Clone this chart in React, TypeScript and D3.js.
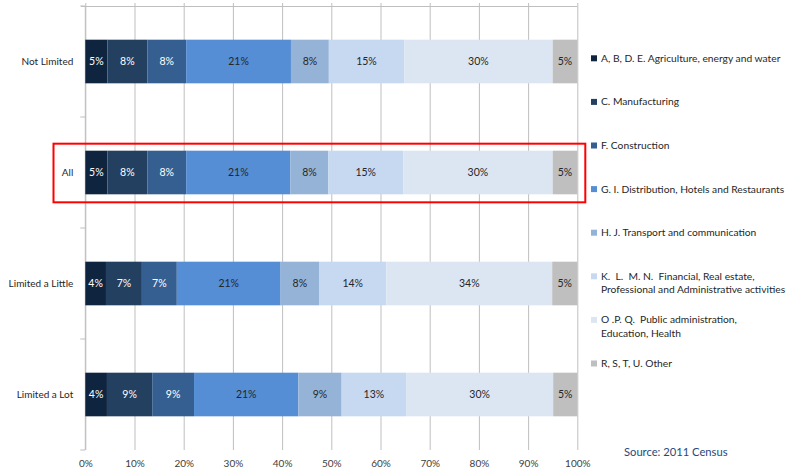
import { useEffect, useRef } from 'react';
import * as d3 from 'd3';

// rows of the chart (share of employment, %)
const categories = ['Not Limited', 'All', 'Limited a Little', 'Limited a Lot'];
const notLimited = [4.5, 8.1, 7.9, 21.3, 7.7, 15.3, 30.2, 5.0];
const allPeople = [4.5, 8.1, 7.9, 21.2, 7.7, 15.2, 30.4, 5.0];
const limitedLittle = [4.2, 7.3, 7.1, 21.1, 7.8, 13.7, 33.7, 5.1];
const limitedLot = [4.4, 9.2, 8.5, 21.2, 8.8, 13.1, 29.9, 4.9];

const seriesNames = [
  ['A, B, D. E. Agriculture, energy and water'],
  ['C. Manufacturing'],
  ['F. Construction'],
  ['G. I. Distribution, Hotels and Restaurants'],
  ['H. J. Transport and communication'],
  ['K.  L.  M. N.  Financial, Real estate,', 'Professional and Administrative activities'],
  ['O .P. Q.  Public administration,', 'Education, Health'],
  ['R, S, T, U. Other'],
];

const colors = ['#0F243E', '#244061', '#365F91', '#558ED5', '#95B3D7', '#C6D9F1', '#DCE6F2', '#BFBFBF'];
const xTicks = [0, 10, 20, 30, 40, 50, 60, 70, 80, 90, 100];

const FONT = 'Lato, "Open Sans", sans-serif';

export default function App() {
  const svgRef = useRef<SVGSVGElement>(null);

  useEffect(() => {
    if (!svgRef.current) return;
    const svg = d3.select(svgRef.current);
    svg.selectAll('*').remove();

    const rows = [notLimited, allPeople, limitedLittle, limitedLot];
    const table = categories.map((c, i) => {
      const o: any = { category: c };
      rows[i].forEach((v, j) => (o['s' + j] = v));
      return o;
    });
    const keys = seriesNames.map((_, j) => 's' + j);
    const stacked = d3.stack().keys(keys)(table);

    const x = d3.scaleLinear().domain([0, 100]).range([85.3, 577.3]);
    const y = d3.scaleBand().domain(categories).range([6, 450]).paddingInner(0.607).paddingOuter(0.3035);

    // top border
    svg.append('line')
      .attr('x1', 81).attr('x2', x(100)).attr('y1', 6.5).attr('y2', 6.5)
      .attr('stroke', '#bfbfbf').attr('stroke-width', 1);

    // gridlines + x labels
    const xAxis = svg.append('g')
      .attr('transform', 'translate(0,450)')
      .call(d3.axisBottom(x).tickValues(xTicks).tickSize(-444).tickPadding(10).tickFormat((d) => `${d}%`));
    xAxis.select('.domain').remove();
    xAxis.selectAll('line').attr('stroke', '#bfbfbf').attr('y1', 0).attr('y2', -447);
    xAxis.selectAll('text')
      .attr('fill', '#404040').attr('font-family', FONT).attr('font-size', 10);

    // category axis
    const yAxis = svg.append('g')
      .attr('transform', `translate(${x(0)},0)`);
    yAxis.append('line')
      .attr('x1', 0).attr('x2', 0).attr('y1', 6).attr('y2', 450)
      .attr('stroke', '#bfbfbf');
    const bounds = [6, ...categories.map((c) => (y(c) as number) + y.step() / 2 + y.bandwidth() / 2)];
    yAxis.selectAll('line.tick')
      .data(bounds)
      .enter()
      .append('line')
      .attr('class', 'tick')
      .attr('x1', -5).attr('x2', 0)
      .attr('y1', (d) => d).attr('y2', (d) => d)
      .attr('stroke', '#bfbfbf');
    yAxis.selectAll('text')
      .data(categories)
      .enter()
      .append('text')
      .attr('x', -12)
      .attr('y', (d) => (y(d) as number) + y.bandwidth() / 2)
      .attr('dy', '0.35em')
      .attr('text-anchor', 'end')
      .attr('fill', '#262626')
      .attr('font-family', FONT)
      .attr('font-size', 10)
      .text((d) => d);

    // bars
    const layers = svg.append('g')
      .selectAll('g')
      .data(stacked)
      .enter()
      .append('g')
      .attr('fill', (_, i) => colors[i]);
    layers.selectAll('rect')
      .data((d) => d)
      .enter()
      .append('rect')
      .attr('x', (d) => x(d[0]))
      .attr('width', (d) => x(d[1]) - x(d[0]))
      .attr('y', (d: any) => y(d.data.category) as number)
      .attr('height', y.bandwidth());

    // value labels
    stacked.forEach((layer, i) => {
      svg.append('g')
        .selectAll('text')
        .data(layer)
        .enter()
        .append('text')
        .attr('x', (d) => (x(d[0]) + x(d[1])) / 2)
        .attr('y', (d: any) => (y(d.data.category) as number) + y.bandwidth() / 2)
        .attr('dy', '0.35em')
        .attr('text-anchor', 'middle')
        .attr('fill', i < 3 ? '#ffffff' : '#262626')
        .attr('font-family', FONT)
        .attr('font-size', 10.5)
        .text((d) => `${Math.round(d[1] - d[0])}%`);
    });

    // highlight box round "All"
    const allY = y('All') as number;
    svg.append('rect')
      .attr('x', 53.5)
      .attr('y', allY - 7)
      .attr('width', x(100) + 8 - 53.5)
      .attr('height', y.bandwidth() + 15)
      .attr('fill', 'none')
      .attr('stroke', '#ff0000')
      .attr('stroke-width', 2);

    // legend
    const legend = svg.append('g');
    seriesNames.forEach((lines, i) => {
      const ly = 58.3 + i * 43.6;
      legend.append('rect')
        .attr('x', 591).attr('y', ly - 3).attr('width', 6).attr('height', 6)
        .attr('fill', colors[i]);
      lines.forEach((t, k) => {
        legend.append('text')
          .attr('x', 601)
          .attr('y', ly + k * 13.5)
          .attr('dy', '0.35em')
          .attr('fill', '#262626')
          .attr('font-family', FONT)
          .attr('font-size', 10.25)
          .style('white-space', 'pre')
          .text(t);
      });
    });

    svg.append('text')
      .attr('x', 624)
      .attr('y', 452)
      .attr('dy', '0.35em')
      .attr('fill', '#1F497D')
      .attr('font-family', FONT)
      .attr('font-size', 11.2)
      .text('Source: 2011 Census');
  }, []);

  return (
    <svg
      ref={svgRef}
      width={790}
      height={474}
      style={{ position: 'absolute', left: 0, top: 0, background: '#ffffff' }}
    />
  );
}
